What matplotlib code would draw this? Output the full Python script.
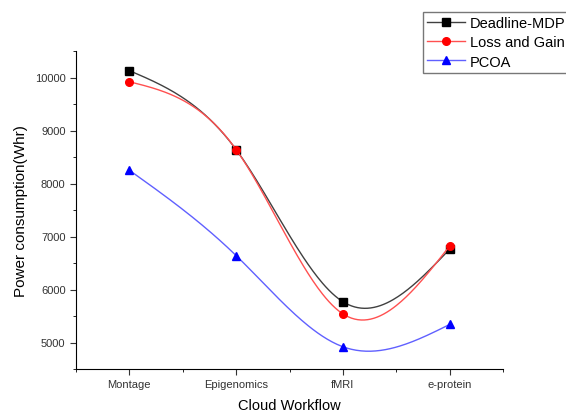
import numpy as np
import matplotlib
matplotlib.use("Agg")
import matplotlib.pyplot as plt
from matplotlib.ticker import MultipleLocator

plt.rcParams['font.family'] = ['Liberation Sans', 'DejaVu Sans']

workflows = ["Montage", "Epigenomics", "fMRI", "e-protein"]
deadline_mdp = [10130, 8640, 5770, 6760]
loss_gain = [9920, 8640, 5540, 6820]
pcoa = [8250, 6640, 4920, 5340]


def natural_spline(x, y, n=200):
    # plain natural cubic spline, like Origin's spline connector
    x = np.asarray(x, float)
    y = np.asarray(y, float)
    k = len(x)
    h = np.diff(x)
    A = np.zeros((k, k))
    b = np.zeros(k)
    A[0, 0] = A[-1, -1] = 1
    for i in range(1, k - 1):
        A[i, i - 1] = h[i - 1]
        A[i, i] = 2 * (h[i - 1] + h[i])
        A[i, i + 1] = h[i]
        b[i] = 3 * ((y[i + 1] - y[i]) / h[i] - (y[i] - y[i - 1]) / h[i - 1])
    c = np.linalg.solve(A, b)
    xs = np.linspace(x[0], x[-1], n)
    ys = np.empty_like(xs)
    for j, xv in enumerate(xs):
        i = min(np.searchsorted(x, xv, side='right') - 1, k - 2)
        dx = xv - x[i]
        bi = (y[i + 1] - y[i]) / h[i] - h[i] * (2 * c[i] + c[i + 1]) / 3
        di = (c[i + 1] - c[i]) / (3 * h[i])
        ys[j] = y[i] + bi * dx + c[i] * dx ** 2 + di * dx ** 3
    return xs, ys


fig = plt.figure(figsize=(5.66, 4.14), dpi=100)
ax = fig.add_axes([76 / 566, 1 - 370 / 414, (503 - 76) / 566, (370 - 52) / 414])

x = np.arange(1, len(workflows) + 1)
series = [
    (deadline_mdp, "Deadline-MDP", "black", "#404040", "s"),
    (loss_gain, "Loss and Gain", "red", "#ff5050", "o"),
    (pcoa, "PCOA", "blue", "#6060ff", "^"),
]
handles = []
for vals, name, mc, lc, m in series:
    xs, ys = natural_spline(x, vals)
    ax.plot(xs, ys, color=lc, lw=1.0)
    ax.plot(x, vals, linestyle='none', marker=m, color=mc, ms=5.5)
    h, = ax.plot([], [], color=lc, lw=1.0, marker=m, mfc=mc, mec=mc, ms=5.5, label=name)
    handles.append(h)

ax.set_xlim(0.5, 4.5)
ax.set_ylim(4500, 10500)
ax.set_xticks(x)
ax.set_xticklabels(workflows)
ax.xaxis.set_minor_locator(MultipleLocator(0.5))
ax.yaxis.set_major_locator(MultipleLocator(1000))
ax.yaxis.set_minor_locator(MultipleLocator(500))
ax.spines['top'].set_visible(False)
ax.spines['right'].set_visible(False)
ax.tick_params(axis='both', which='major', direction='out', length=4, labelsize=8, colors='#333333')
ax.tick_params(axis='both', which='minor', direction='out', length=2.5)
ax.set_xlabel("Cloud Workflow", fontsize=10.5, labelpad=6)
ax.set_ylabel("Power consumption(Whr)", fontsize=11, labelpad=5)

fig.legend(handles, [h.get_label() for h in handles], loc='upper left',
           bbox_to_anchor=(423 / 566, 1 - 13 / 414),
           fontsize=10.5, frameon=True, fancybox=False, edgecolor='#555555',
           handlelength=2.6, borderpad=0.3, labelspacing=0.35, handletextpad=0.3,
           borderaxespad=0)

fig.savefig("out.png", dpi=100)
